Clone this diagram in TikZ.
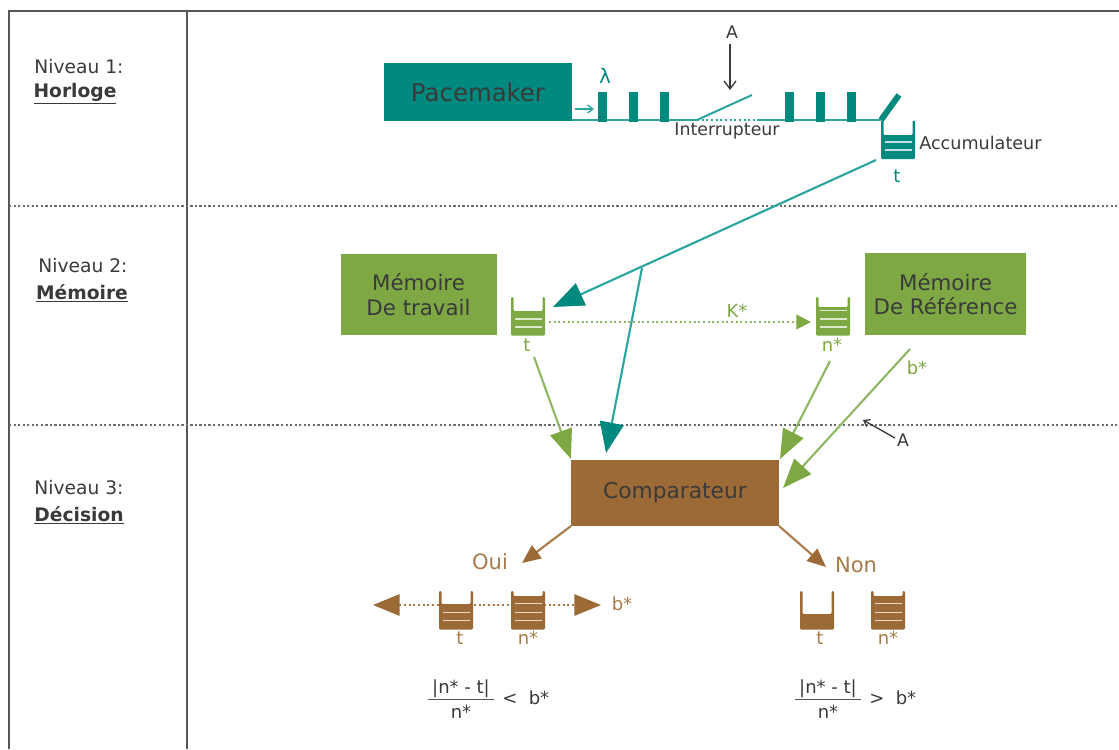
\documentclass[tikz,border=0pt]{standalone}
\usepackage{fontspec}
\setmainfont{DejaVu Sans}
\usetikzlibrary{arrows.meta}
\definecolor{tealD}{HTML}{00897F}
\definecolor{tealL}{HTML}{2AA5A0}
\definecolor{greenD}{HTML}{7DA843}
\definecolor{greenL}{HTML}{8FB765}
\definecolor{brownD}{HTML}{9C6A37}
\definecolor{brownL}{HTML}{A97B4B}
\definecolor{inkc}{HTML}{3A3A3A}
\newcommand{\fs}[1]{\fontsize{#1}{#1}\selectfont}
% \bucketat{name}{left x}{top y}{colour}{top of fill}{rule positions}
\newcommand{\bucketat}[6]{%
  \fill[#4,rounded corners=0.8pt] (#2,#3) -- (#2+2.5,#3) -- (#2+2.5,#5) -- (#2+31.5,#5) -- (#2+31.5,#3) -- (#2+34,#3) -- (#2+34,#3+38.5) -- (#2,#3+38.5) -- cycle;
  \foreach \yy in {#6} {\draw[white!75!#4,line width=1.3pt] (#2+3.5,\yy) -- (#2+30.5,\yy);}
  \coordinate (#1) at (#2+17,#3+19);
}
\tikzset{
  frameline/.style={draw=inkc!85,line width=1.6pt},
  levelsep/.style={draw=inkc!75,line width=1.6pt,dash pattern=on 1.7pt off 1.7pt},
  lvl/.style={text=inkc,font=\fs{14},inner sep=0pt},
  ink/.style={text=inkc,inner sep=0pt},
  pulse/.style={fill=tealD,draw=none},
  tealBox/.style={fill=tealD,draw=none,inner sep=0pt,text=inkc},
  greenBox/.style={fill=greenD,draw=none,inner sep=0pt,text=inkc,align=center,font=\fs{16},text depth=0pt},
  brownBox/.style={fill=brownD,draw=none,inner sep=0pt,text=inkc},
  lbl/.style={inner sep=0pt,font=\fs{13.5}},
  tealLine/.style={draw=tealL,line width=1.5pt},
  greenLine/.style={draw=greenL,line width=1.5pt},
  brownLine/.style={draw=brownL,line width=1.5pt},
  bigT/.style={-{Triangle[length=23pt,width=18pt,color=tealD]},draw=tealL,line width=1.6pt},
  bigG/.style={-{Triangle[length=22pt,width=17pt,color=greenD]},draw=greenL,line width=1.6pt},
  bigB/.style={-{Triangle[length=14pt,width=12pt,color=brownD]},draw=brownL,line width=1.6pt},
  blackArrow/.style={-{Straight Barb[length=6pt,width=9pt]},draw=inkc,line width=1pt},
}
\begin{document}
\begin{tikzpicture}[x=0.75pt,y=-0.75pt]
\useasboundingbox (0,0) rectangle (1119,749);
% frame
\coordinate (tl) at (9,11); \coordinate (tr) at (1119,11);
\coordinate (bl) at (9,749); \coordinate (vt) at (187,11); \coordinate (vb) at (187,749);
\coordinate (s1l) at (9,206); \coordinate (s1r) at (1119,206);
\coordinate (s2l) at (9,425); \coordinate (s2r) at (1119,425);
\draw[frameline] (bl) -- (tl) -- (tr);
\draw[frameline] (vt) -- (vb);
\draw[levelsep] (s1l) -- (s1r);
\draw[levelsep] (s2l) -- (s2r);
% level labels
\node[lvl] (n1) at (79,67) {Niveau 1:};
\node[lvl] (h1) at (75,94) {\underline{\textbf{Horloge}}};
\node[lvl] (n2) at (83,266) {Niveau 2:};
\node[lvl] (h2) at (82,293) {\underline{\textbf{Mémoire}}};
\node[lvl] (n3) at (79,488) {Niveau 3:};
\node[lvl] (h3) at (79,515) {\underline{\textbf{Décision}}};
% level 1
\node[tealBox,minimum width=141pt,minimum height=43.5pt,font=\fs{18.3}] (pace) at (478,92) {Pacemaker};
\coordinate (b0) at (572,120); \coordinate (sw0) at (697,120); \coordinate (sw1) at (757,120);
\coordinate (swt) at (752,95); \coordinate (b1) at (881,120); \coordinate (tab) at (899,95);
\coordinate (pa0) at (575,109); \coordinate (pa1) at (594,109);
\draw[tealLine] (b0) -- (sw0);
\draw[tealLine,dash pattern=on 1.5pt off 2pt] (sw0) -- (sw1);
\draw[tealLine] (sw1) -- (b1);
\draw[tealLine] (sw0) -- (swt);
\draw[draw=tealD,line width=4.5pt] (b1) -- (tab);
\draw[tealLine,-{Straight Barb[length=4pt,width=6pt]},line width=1pt] (pa0) -- (pa1);
\foreach \px in {598,629,660,785,816,847} {\fill[pulse] (\px,92) rectangle (\px+8.5,121.5);}
\node[lbl,text=tealD,font=\fs{15}] (lam) at (605,76) {λ};
\node[ink,font=\fs{13}] (int) at (727,131) {Interrupteur};
\node[ink,font=\fs{13}] (aA) at (732,32) {A};
\coordinate (aA0) at (730,44); \coordinate (aA1) at (730,90);
\draw[blackArrow] (aA0) -- (aA1);
\bucketat{acc}{881}{120.5}{tealD}{135}{142,150}
\node[ink,font=\fs{13.2},anchor=west] (acct) at (919,143) {Accumulateur};
\node[lbl,text=tealD] (tacc) at (897,176) {t};
% level 2
\node[greenBox,minimum width=117pt,minimum height=61pt] (mt) at (418.5,294.5) {Mémoire\\[2.5pt]De travail};
\node[greenBox,minimum width=121pt,minimum height=61pt] (mr) at (945.5,294) {Mémoire\\[2.5pt]De Référence};
\bucketat{bt}{511}{297}{greenD}{311}{319,327}
\bucketat{bn}{816}{297}{greenD}{307}{310.5,319,327}
\node[lbl,text=greenD] (tt) at (527,345) {t};
\node[lbl,text=greenD] (tn) at (832,345) {n*};
\node[lbl,text=greenD] (kk) at (737,311) {K*};
\node[lbl,text=greenD] (bb) at (917,368) {b*};
% comparator
\node[brownBox,minimum width=156pt,minimum height=49.5pt,font=\fs{16.3}] (cmp) at (675,493) {Comparateur};
% connectors of level 2 and 3
\coordinate (acc0) at (876,160); \coordinate (atip) at (553,307); \coordinate (brA) at (642,268); \coordinate (ctip) at (606,453);
\draw[bigT] (acc0) -- (atip);
\draw[bigT] (brA) -- (ctip);
\coordinate (k0) at (549,322); \coordinate (k1) at (811,322);
\draw[greenLine,dash pattern=on 1.5pt off 2pt,-{Triangle[length=11pt,width=11pt,color=greenD]}] (k0) -- (k1);
\coordinate (g0) at (534,357); \coordinate (g0t) at (571,459);
\coordinate (g1) at (830,361); \coordinate (g1t) at (780,459);
\coordinate (g2) at (910,349); \coordinate (g2t) at (783,488);
\draw[bigG] (g0) -- (g0t);
\draw[bigG] (g1) -- (g1t);
\draw[bigG] (g2) -- (g2t);
\node[ink,font=\fs{13}] (aB) at (903,440) {A};
\coordinate (aB0) at (895,438); \coordinate (aB1) at (863,420);
\draw[blackArrow,line width=1pt,-{Straight Barb[length=4pt,width=6pt]}] (aB0) -- (aB1);
% outcomes
\coordinate (c0) at (571,526); \coordinate (c0t) at (522,563);
\coordinate (c1) at (779,526); \coordinate (c1t) at (826,567);
\draw[bigB] (c0) -- (c0t);
\draw[bigB] (c1) -- (c1t);
\node[inner sep=0pt,text=brownL,font=\fs{15.8}] (oui) at (490,562) {Oui};
\node[inner sep=0pt,text=brownL,font=\fs{15.8}] (non) at (856,565) {Non};
\coordinate (d0) at (373,605); \coordinate (d1) at (601,605);
\draw[brownLine,dash pattern=on 1.5pt off 2pt,{Triangle[length=20pt,width=16pt,color=brownD]}-{Triangle[length=20pt,width=16pt,color=brownD]}] (d0) -- (d1);
\bucketat{ot}{439}{591}{brownD}{604}{612.5,620.5}
\bucketat{on}{511}{591}{brownD}{596}{603.5,612.5,620.5}
\bucketat{nt}{800}{591}{brownD}{614}{}
\bucketat{nn}{871}{591}{brownD}{596}{603.5,612.5,620.5}
\node[lbl,text=brownL] (obs) at (622,604) {b*};
\node[lbl,text=brownL] (ott) at (460,638) {t};
\node[lbl,text=brownL] (onn) at (528,638) {n*};
\node[lbl,text=brownL] (ntt) at (820,638) {t};
\node[lbl,text=brownL] (nnn) at (888,638) {n*};
% formulas
\node[ink,font=\fs{13.5}] (f1n) at (461,689) {|n* - t|};
\node[ink,font=\fs{13.5}] (f1d) at (461,712) {n*};
\coordinate (f1a) at (428,699.5); \coordinate (f1b) at (494,699.5);
\draw[draw=inkc!85,line width=1.4pt] (f1a) -- (f1b);
\node[ink,font=\fs{13.5}] (f1c) at (510,699) {<};
\node[ink,font=\fs{13.5}] (f1e) at (539,698) {b*};
\node[ink,font=\fs{13.5}] (f2n) at (828,689) {|n* - t|};
\node[ink,font=\fs{13.5}] (f2d) at (828,712) {n*};
\coordinate (f2a) at (795,699.5); \coordinate (f2b) at (861,699.5);
\draw[draw=inkc!85,line width=1.4pt] (f2a) -- (f2b);
\node[ink,font=\fs{13.5}] (f2c) at (877,699) {>};
\node[ink,font=\fs{13.5}] (f2e) at (906,698) {b*};
\end{tikzpicture}
\end{document}
